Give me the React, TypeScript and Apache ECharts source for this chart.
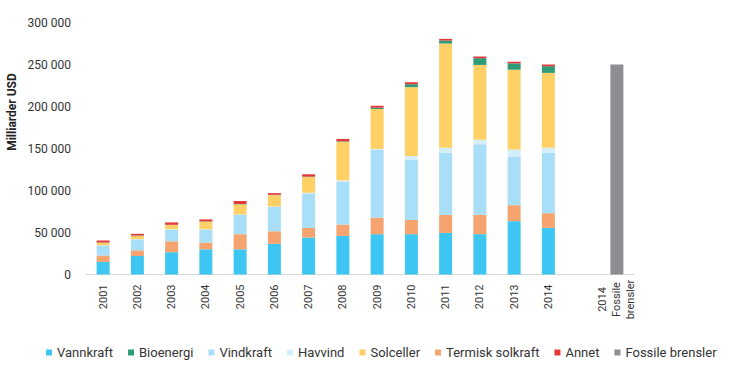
import React, { useEffect, useRef } from "react";
import * as echarts from "echarts";

const years = ["2001", "2002", "2003", "2004", "2005", "2006", "2007", "2008", "2009", "2010", "2011", "2012", "2013", "2014"];
const fossilLabel = "2014\nFossile\nbrensler";

const vannkraft = [15000, 22000, 26500, 30000, 30000, 36500, 44000, 46000, 48000, 48000, 49500, 48000, 63500, 55500];
const termisk = [7500, 6800, 13000, 8000, 18000, 15000, 11500, 13500, 19500, 17000, 21500, 23000, 19000, 17500];
const vindkraft = [12000, 13000, 14000, 15500, 23000, 29000, 41000, 51000, 81000, 72000, 74000, 84000, 58000, 72000];
const havvind = [300, 300, 400, 400, 500, 500, 800, 1500, 1000, 4000, 6000, 5500, 8300, 6000];
const solceller = [3000, 4000, 5000, 9000, 12000, 13500, 18700, 46000, 47500, 82000, 124000, 89000, 95000, 89000];
const bioenergi = [300, 300, 300, 300, 400, 400, 500, 600, 1500, 3500, 3500, 8000, 7500, 8000];
const annet = [2400, 2000, 2800, 2400, 3600, 2000, 2800, 2800, 2400, 2400, 2000, 2000, 2000, 2000];
const fossile = 250000;

const yTicks = { min: 0, max: 300000, interval: 50000 };

const legendOrder = ["Vannkraft", "Bioenergi", "Vindkraft", "Havvind", "Solceller", "Termisk solkraft", "Annet", "Fossile brensler"];

export default function App() {
  const ref = useRef<HTMLDivElement>(null);
  useEffect(() => {
    document.body.style.margin = "0";
    if (!ref.current) return;
    const chart = echarts.init(ref.current, null, { renderer: "svg" });
    const categories: any[] = [
      ...years,
      "",
      { value: fossilLabel, textStyle: { align: "center", padding: [0, 30, 0, 0], lineHeight: 14 } },
    ];
    const pad = (arr: number[]) => [...arr, null, null];
    const mk = (name: string, data: (number | null)[], color: string) => ({
      name,
      type: "bar",
      stack: "a",
      barWidth: 13,
      data,
      itemStyle: { color },
    });
    const fossilData = categories.map((_, i) => (i === categories.length - 1 ? fossile : null));
    chart.setOption({
      animation: false,
      textStyle: { fontFamily: "Roboto" },
      grid: { left: 86, right: 96, top: 22.5, bottom: 100.5 },
      legend: {
        data: legendOrder,
        left: 46,
        top: 346,
        width: 684,
        padding: 0,
        icon: "rect",
        itemWidth: 6,
        itemHeight: 6,
        itemGap: 15,
        textStyle: { fontSize: 13, color: "#333", fontFamily: "Roboto" },
      },
      xAxis: {
        type: "category",
        data: categories,
        axisLine: { lineStyle: { color: "#d9d9d9" } },
        axisTick: { lineStyle: { color: "#d9d9d9" }, length: 4 },
        axisLabel: { rotate: 90, interval: 0, margin: 10, fontSize: 11, color: "#333" },
      },
      yAxis: {
        type: "value",
        min: yTicks.min,
        max: yTicks.max,
        interval: yTicks.interval,
        splitLine: { show: false },
        axisLine: { show: false },
        axisTick: { show: false },
        axisLabel: {
          margin: 15,
          fontSize: 12,
          color: "#333",
          formatter: (v: number) => String(v).replace(/\B(?=(\d{3})+(?!\d))/g, " "),
        },
      },
      graphic: [
        {
          type: "text",
          x: 12,
          y: 112,
          rotation: Math.PI / 2,
          style: {
            text: "Milliarder USD",
            fontFamily: "Roboto",
            fontWeight: "bold",
            fontSize: 12,
            fill: "#222",
            textAlign: "center",
            textVerticalAlign: "middle",
          },
        },
      ],
      series: [
        mk("Vannkraft", pad(vannkraft), "#3ec6f2"),
        mk("Termisk solkraft", pad(termisk), "#f5a46f"),
        mk("Vindkraft", pad(vindkraft), "#a9def8"),
        mk("Havvind", pad(havvind), "#d3effc"),
        mk("Solceller", pad(solceller), "#fed066"),
        mk("Bioenergi", pad(bioenergi), "#2f9b77"),
        mk("Annet", pad(annet), "#e4393b"),
        mk("Fossile brensler", fossilData, "#8d8e92"),
      ],
    });
    return () => chart.dispose();
  }, []);
  return <div ref={ref} style={{ width: 730, height: 375 }} />;
}
